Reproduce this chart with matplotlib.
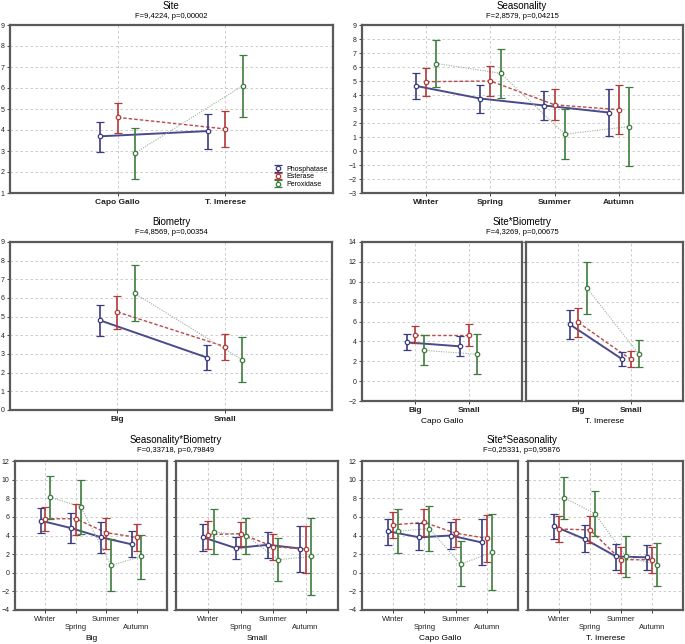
import numpy as np
import matplotlib
matplotlib.use('Agg')
from matplotlib import pyplot as plt

plt.rcParams['font.family'] = ['Liberation Sans', 'DejaVu Sans']

# ---- data: each row = [mean, lower CI, upper CI] per category ----
enzymes = ['Phosphatase', 'Esterase', 'Peroxidase']
seasons = ['Winter', 'Spring', 'Summer', 'Autumn']
sites = ['Capo Gallo', 'T. Imerese']
sizes = ['Big', 'Small']

# Site
site_phos = np.array([[3.70, 2.95, 4.40], [3.95, 3.10, 4.75]])
site_est = np.array([[4.60, 3.85, 5.30], [4.05, 3.20, 4.90]])
site_per = np.array([[2.90, 1.65, 4.10], [6.10, 4.60, 7.55]])

# Seasonality
seas_phos = np.array([[4.65, 3.70, 5.60], [3.75, 2.70, 4.75], [3.25, 2.20, 4.30], [2.75, 1.05, 4.45]])
seas_est = np.array([[4.95, 3.95, 5.95], [5.00, 3.95, 6.05], [3.30, 2.20, 4.40], [2.95, 1.20, 4.70]])
seas_per = np.array([[6.25, 4.60, 7.90], [5.55, 3.80, 7.30], [1.20, -0.55, 3.00], [1.75, -1.10, 4.60]])

# Biometry
bio_phos = np.array([[4.80, 3.95, 5.65], [2.80, 2.15, 3.50]])
bio_est = np.array([[5.25, 4.35, 6.10], [3.40, 2.70, 4.05]])
bio_per = np.array([[6.25, 4.75, 7.75], [2.70, 1.50, 3.90]])

# Site*Biometry
sb_cg_phos = np.array([[3.90, 3.10, 4.70], [3.50, 2.50, 4.50]])
sb_cg_est = np.array([[4.60, 3.80, 5.50], [4.60, 3.50, 5.75]])
sb_cg_per = np.array([[3.10, 1.60, 4.60], [2.70, 0.70, 4.70]])
sb_ti_phos = np.array([[5.70, 4.20, 7.20], [2.20, 1.50, 2.90]])
sb_ti_est = np.array([[5.90, 4.40, 7.40], [2.20, 1.40, 3.00]])
sb_ti_per = np.array([[9.40, 6.80, 12.00], [2.70, 1.40, 4.10]])

# Seasonality*Biometry
bs_big_phos = np.array([[5.60, 4.30, 6.90], [4.80, 3.20, 6.40], [3.80, 2.10, 5.40], [3.05, 1.65, 4.45]])
bs_big_est = np.array([[5.80, 4.50, 7.10], [5.80, 4.10, 7.40], [4.30, 2.60, 5.90], [3.80, 2.30, 5.25]])
bs_big_per = np.array([[8.10, 5.80, 10.40], [7.10, 4.20, 10.00], [0.80, -2.00, 3.60], [1.75, -0.70, 4.10]])
bs_small_phos = np.array([[3.80, 2.30, 5.20], [2.65, 1.50, 3.80], [3.00, 1.60, 4.40], [2.60, 0.10, 5.05]])
bs_small_est = np.array([[4.10, 2.60, 5.60], [4.20, 2.90, 5.40], [2.80, 1.40, 4.20], [2.55, 0.00, 5.05]])
bs_small_per = np.array([[4.40, 2.00, 6.80], [4.00, 2.00, 5.90], [1.40, -0.90, 3.70], [1.75, -2.40, 5.90]])

# Site*Seasonality
ss_cg_phos = np.array([[4.45, 3.00, 5.80], [3.80, 2.40, 5.30], [4.00, 2.60, 5.45], [3.25, 0.80, 5.75]])
ss_cg_est = np.array([[5.15, 3.70, 6.55], [5.40, 3.90, 6.85], [4.25, 2.80, 5.75], [3.70, 1.20, 6.20]])
ss_cg_per = np.array([[4.45, 2.10, 6.80], [4.75, 2.35, 7.20], [0.90, -1.45, 3.40], [2.20, -1.90, 6.35]])
ss_ti_phos = np.array([[5.00, 3.60, 6.30], [3.60, 2.20, 5.10], [1.75, 0.30, 3.10], [1.65, 0.30, 3.00]])
ss_ti_est = np.array([[4.70, 3.35, 6.10], [4.60, 3.20, 6.05], [1.40, 0.00, 2.80], [1.40, 0.00, 2.80]])
ss_ti_per = np.array([[8.05, 5.80, 10.30], [6.35, 3.95, 8.80], [1.75, -0.45, 4.00], [0.85, -1.45, 3.15]])

# ---- style ----
W, H = 685, 644
cols = ['#3b3b80', '#b23a3a', '#3d7d3d']
line_cols = ['#4a4a8c', '#b84a4a', '#9ab09a']
styles = ['-', (0, (2.5, 1.5)), (0, (1, 1.2))]
widths = [1.4, 1.0, 0.8]
offs = [-0.16, 0.0, 0.16]


def make_ax(x0, y0, x1, y1):
    ax = plt.gcf().add_axes([x0 / W, 1 - y1 / H, (x1 - x0) / W, (y1 - y0) / H])
    for s in ax.spines.values():
        s.set_color('#5a5a5a')
        s.set_linewidth(1.6)
    ax.grid(True, ls=(0, (3, 3)), color='#c4c4c4', lw=0.6)
    ax.set_axisbelow(True)
    ax.tick_params(length=2, width=0.6, labelsize=5, pad=2, colors='#222222')
    return ax


def draw(ax, cats, series, yticks, stagger=False, bold=True, show_y=True, xlabel=None):
    x = np.arange(1, len(cats) + 1)
    for i, arr in enumerate(series):
        xs = x + offs[i]
        ax.plot(xs, arr[:, 0], color=line_cols[i], ls=styles[i], lw=widths[i], zorder=2)
        ax.errorbar(xs, arr[:, 0], yerr=[arr[:, 0] - arr[:, 1], arr[:, 2] - arr[:, 0]],
                    fmt='o', ms=3.2, mfc='white', mec=cols[i], mew=0.9, ecolor=cols[i],
                    elinewidth=1.2, capsize=3, capthick=1.0, label=enzymes[i], zorder=3)
    ax.set_xlim(0, len(cats) + 1)
    ax.set_ylim(yticks[0], yticks[-1])
    ax.set_yticks(yticks)
    ax.set_xticks(x)
    if stagger:
        labs = [c if k % 2 == 0 else '\n' + c for k, c in enumerate(cats)]
    else:
        labs = cats
    ax.set_xticklabels(labs, fontsize=6 if bold else 5.5, fontweight='bold' if bold else 'normal')
    if not show_y:
        ax.set_yticklabels([])
    if xlabel:
        ax.set_xlabel(xlabel, fontsize=6, labelpad=3)


def title(xc, y, name, stat):
    fig.text(xc / W, 1 - y / H, name, ha='center', va='center', fontsize=7)
    fig.text(xc / W, 1 - (y + 11) / H, stat, ha='center', va='center', fontsize=5.5)


fig = plt.figure(figsize=(W / 100, H / 100), dpi=100)
fig.patch.set_facecolor('white')

# Site
ax1 = make_ax(10, 25, 333, 193)
draw(ax1, sites, [site_phos, site_est, site_per], np.arange(1, 10))
ax1.legend(loc='lower right', fontsize=5, frameon=False, handlelength=1.8,
           labelspacing=0.1, borderaxespad=0.3, handletextpad=0.4)
title(171, 6, 'Site', 'F=9,4224, p=0,00002')

# Seasonality
ax2 = make_ax(362, 25, 683, 193)
draw(ax2, seasons, [seas_phos, seas_est, seas_per], np.arange(-3, 10))
title(522, 6, 'Seasonality', 'F=2,8579, p=0,04215')

# Biometry
ax3 = make_ax(10, 242, 332, 410)
draw(ax3, sizes, [bio_phos, bio_est, bio_per], np.arange(0, 10))
title(171, 222, 'Biometry', 'F=4,8569, p=0,00354')

# Site*Biometry
ax4a = make_ax(362, 242, 522, 401)
draw(ax4a, sizes, [sb_cg_phos, sb_cg_est, sb_cg_per], np.arange(-2, 15, 2), xlabel='Capo Gallo')
ax4b = make_ax(526, 242, 683, 401)
draw(ax4b, sizes, [sb_ti_phos, sb_ti_est, sb_ti_per], np.arange(-2, 15, 2), show_y=False, xlabel='T. Imerese')
title(522, 222, 'Site*Biometry', 'F=4,3269, p=0,00675')

# Seasonality*Biometry
ax5a = make_ax(15, 461, 167, 610)
draw(ax5a, seasons, [bs_big_phos, bs_big_est, bs_big_per], np.arange(-4, 13, 2),
     stagger=True, bold=False, xlabel='Big')
ax5b = make_ax(176, 461, 338, 610)
draw(ax5b, seasons, [bs_small_phos, bs_small_est, bs_small_per], np.arange(-4, 13, 2),
     stagger=True, bold=False, show_y=False, xlabel='Small')
title(176, 440, 'Seasonality*Biometry', 'F=0,33718, p=0,79849')

# Site*Seasonality
ax6a = make_ax(362, 461, 518, 610)
draw(ax6a, seasons, [ss_cg_phos, ss_cg_est, ss_cg_per], np.arange(-4, 13, 2),
     stagger=True, bold=False, xlabel='Capo Gallo')
ax6b = make_ax(528, 461, 683, 610)
draw(ax6b, seasons, [ss_ti_phos, ss_ti_est, ss_ti_per], np.arange(-4, 13, 2),
     stagger=True, bold=False, show_y=False, xlabel='T. Imerese')
title(522, 440, 'Site*Seasonality', 'F=0,25331, p=0,95876')

fig.savefig('out.png', dpi=100)
